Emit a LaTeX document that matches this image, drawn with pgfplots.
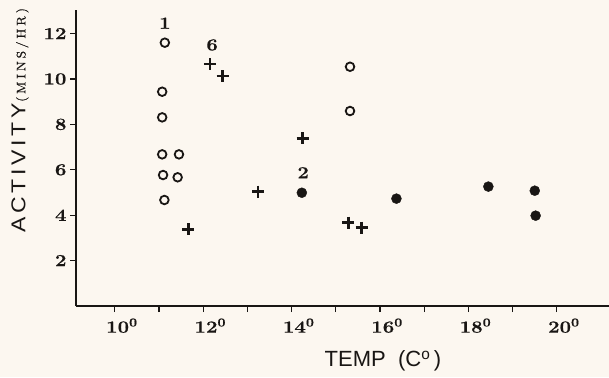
\documentclass[border=0pt]{standalone}
\usepackage{fontspec}
\usepackage{pgfplots}
\pgfplotsset{compat=1.18}
\newfontfamily\labsans{Liberation Sans}
\newfontfamily\labsanswide[LetterSpace=18,FakeStretch=1.15]{Liberation Sans}
\newfontfamily\tickserif[FakeStretch=1.2,FakeBold=0.6]{Latin Modern Roman}
\newfontfamily\scserif[LetterSpace=22,FakeBold=0.5,FakeStretch=1.1]{Latin Modern Roman}
\newcommand\tf{\tickserif\fontsize{17}{17}\selectfont\bfseries}
\definecolor{bg}{RGB}{252,247,240}
\definecolor{ink}{RGB}{25,22,20}
\begin{document}
\begin{tikzpicture}
\fill[bg] (-76pt,-71pt) rectangle (533pt,306pt);
\begin{axis}[
  scale only axis,
  width=533pt, height=296pt,
  at={(0,0)}, anchor=south west,
  xmin=9.12, xmax=21.18,
  ymin=0, ymax=13.04,
  axis x line=bottom, axis y line=left,
  axis line style={-, line width=1.6pt, ink},
  tick align=outside,
  major tick length=6pt, minor tick length=6pt,
  tick style={line width=1.2pt, ink},
  xtick={10,12,14,16,18,20},
  minor xtick={11,13,15,17,19},
  xticklabels={10\textsuperscript{0},12\textsuperscript{0},14\textsuperscript{0},16\textsuperscript{0},18\textsuperscript{0},20\textsuperscript{0}},
  ytick={2,4,6,8,10,12},
  yticklabels={2,4,6,8,10,12},
  tick label style={font=\tf, text=ink},
  xticklabel style={xshift=7pt, yshift=-3pt},
  yticklabel style={xshift=0pt},
  xlabel={\labsans TEMP\ \ (C\textsuperscript{o}\,)},
  xlabel style={font=\fontsize{22}{22}\selectfont, text=ink, at={(axis description cs:0.576,-0.186)}, anchor=center},
  ylabel={{\labsanswide\fontsize{20}{20}\selectfont ACTIVITY}\,{\scserif\fontsize{12.5}{12.5}\selectfont (MINS/HR)}},
  ylabel style={text=ink, at={(axis description cs:-0.105,0.628)}, anchor=center},
  clip=false,
]
\addplot[only marks, mark=o, mark size=4.3pt, mark options={line width=1.8pt, draw=ink}] coordinates {
(11.13,11.6) (11.07,9.44) (11.07,8.31) (11.07,6.68) (11.45,6.68)
(11.09,5.77) (11.42,5.67) (11.12,4.67) (15.32,10.54) (15.32,8.59)
};
\addplot[only marks, mark=+, mark size=6pt, mark options={line width=2.6pt, draw=ink}] coordinates {
(12.15,10.66) (12.44,10.13) (11.66,3.38) (13.24,5.04) (14.25,7.39) (15.28,3.67) (15.58,3.45)
};
\addplot[only marks, mark=*, mark size=5pt, mark options={draw=ink, fill=ink}] coordinates {
(14.23,4.99) (16.37,4.73) (18.45,5.26) (19.50,5.08) (19.52,3.98)
};
\node[font=\tf, text=ink] at (axis cs:11.13,12.46) {1};
\node[font=\tf, text=ink] at (axis cs:12.2,11.5) {6};
\node[font=\tf, text=ink] at (axis cs:14.26,5.87) {2};
\end{axis}
\pgfresetboundingbox
\path[use as bounding box] (-76pt,-71pt) rectangle (533pt,306pt);
\end{tikzpicture}
\end{document}
